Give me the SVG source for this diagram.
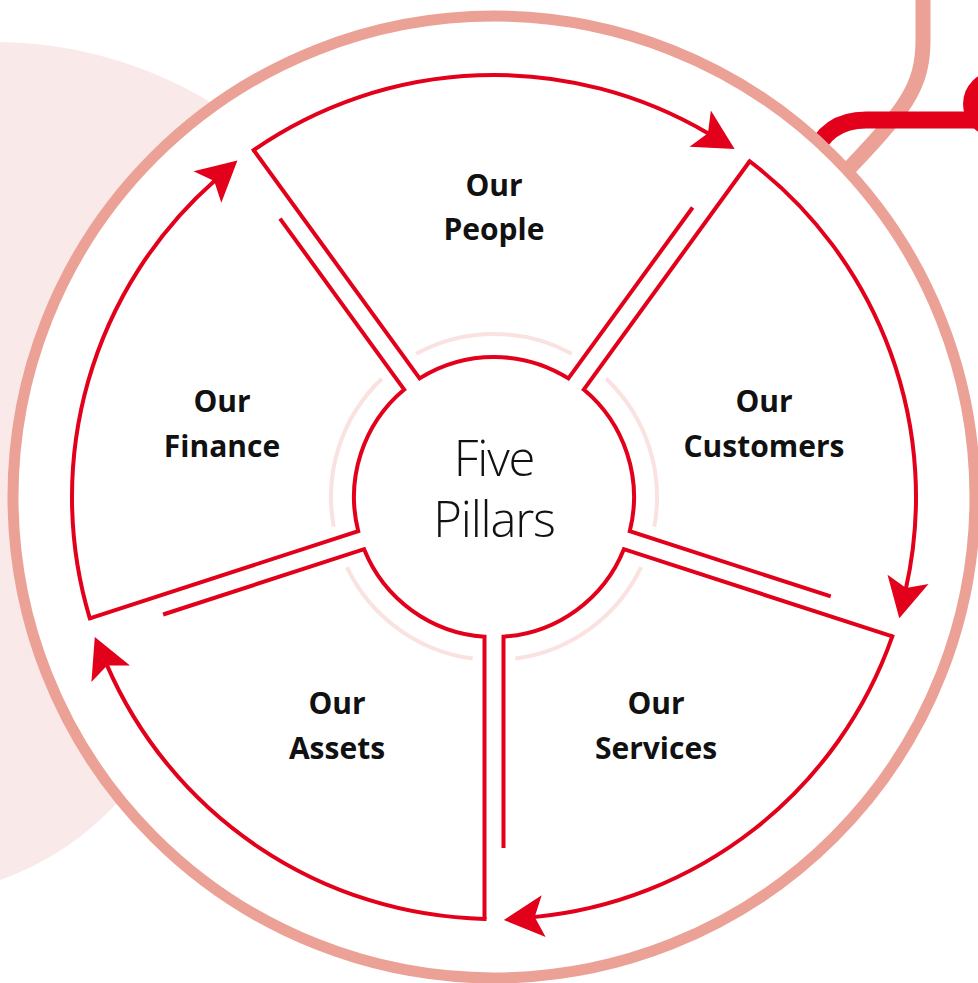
<svg xmlns="http://www.w3.org/2000/svg" width="978" height="983" viewBox="0 0 978 983">
  <style>
    .outline { fill: none; stroke: #E2001A; stroke-width: 4; stroke-linejoin: miter; }
    .flow { fill: none; stroke: #E2001A; stroke-width: 4; stroke-linecap: square; marker-end: url(#head); }
    .halo { fill: none; stroke: #F9E2E0; stroke-width: 4; }
    .label { font-family: "Open Sans", "Liberation Sans", sans-serif; font-weight: 700; font-size: 30px; fill: #111111; text-anchor: middle; }
    .title { font-family: "Open Sans", "Liberation Sans", sans-serif; font-weight: 300; font-size: 49px; letter-spacing: -1.2px; fill: #111111; text-anchor: middle; }
  </style>
  <defs>
    <marker id="head" markerUnits="userSpaceOnUse" markerWidth="60" markerHeight="60" refX="0" refY="0" orient="auto" overflow="visible">
      <path d="M30,0 L-10,-21 L-1,0 L-10,21 Z" fill="#E2001A"/>
    </marker>
  </defs>

  <!-- backdrop: soft tint, link lines and outer ring -->
  <g id="backdrop">
    <path d="M0,42 A419,419 0 0 1 260,137.3 L420,500 L170,721.5 A290,290 0 0 1 0,880 Z" fill="#FAE9E9"/>
    <path d="M923,-10 L923,40 C923,88 905,110 840,178" fill="none" stroke="#EBA196" stroke-width="15"/>
    <path d="M812,158 Q826,120 866,120 L985,120" fill="none" stroke="#E2001A" stroke-width="17"/>
    <circle cx="996" cy="104" r="33" fill="#E2001A"/>
    <circle cx="494" cy="497" r="481" fill="#FFFFFF" stroke="#EBA196" stroke-width="11"/>
  </g>

  <!-- five sector outlines -->
  <g id="people">
    <path class="outline" d="M692.62,207.45 L568.41,378.42 A140,140 0 0 0 419.59,378.42 L253.70,150.10"/>
    <text class="label" x="494" y="196">Our</text>
    <text class="label" x="494" y="240">People</text>
  </g>
  <g id="customers">
    <path class="outline" d="M830.76,596.44 L629.78,531.13 A140,140 0 0 0 583.79,389.58 L749.68,161.26"/>
    <text class="label" x="764" y="412">Our</text>
    <text class="label" x="764" y="457">Customers</text>
  </g>
  <g id="services">
    <path class="outline" d="M503.5,848 L503.5,636.68 A140,140 0 0 0 623.90,549.20 L892.31,636.41"/>
    <text class="label" x="656" y="714">Our</text>
    <text class="label" x="656" y="759">Services</text>
  </g>
  <g id="assets">
    <path class="outline" d="M163.12,614.51 L364.10,549.20 A140,140 0 0 0 484.5,636.68 L484.5,918.9"/>
    <text class="label" x="337" y="714">Our</text>
    <text class="label" x="337" y="759">Assets</text>
  </g>
  <g id="finance">
    <path class="outline" d="M280.00,218.61 L404.21,389.58 A140,140 0 0 0 358.22,531.13 L89.81,618.34"/>
    <text class="label" x="222" y="412">Our</text>
    <text class="label" x="222" y="457">Finance</text>
  </g>

  <!-- hub -->
  <g id="hub">
    <path class="halo" d="M416.22,353.75 A163,163 0 0 1 571.78,353.75"/>
    <path class="halo" d="M606.20,378.76 A163,163 0 0 1 654.27,526.71"/>
    <path class="halo" d="M641.12,567.17 A163,163 0 0 1 515.28,658.60"/>
    <path class="halo" d="M472.72,658.60 A163,163 0 0 1 346.88,567.17"/>
    <path class="halo" d="M333.73,526.71 A163,163 0 0 1 381.80,378.76"/>
    <text class="title" x="494" y="476">Five</text>
    <text class="title" x="494" y="537">Pillars</text>
  </g>

  <!-- clockwise cycle arrows along the rim -->
  <g id="connectors">
    <path class="flow" d="M253.70,150.10 A422,422 0 0 1 708.81,133.77"/>
    <path class="flow" d="M749.68,161.26 A422,422 0 0 1 905.84,589.06"/>
    <path class="flow" d="M892.31,636.41 A422,422 0 0 1 533.71,917.13"/>
    <path class="flow" d="M484.5,918.9 A422,422 0 0 1 106.71,664.60"/>
    <path class="flow" d="M89.81,618.34 A422,422 0 0 1 214.93,180.45"/>
  </g>
</svg>
